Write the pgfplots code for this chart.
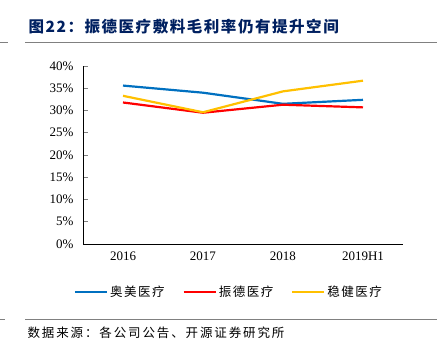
\documentclass[border=0pt]{standalone}
\usepackage{fontspec}
\setmainfont{Liberation Serif}
\newfontfamily\cjk{Noto Sans CJK SC}
\newfontfamily\cjktitle[LetterSpace=10]{Noto Sans CJK SC}
\newfontfamily\cjksrc[LetterSpace=15]{Noto Sans CJK SC}
\newfontfamily\cjkleg[LetterSpace=12]{Noto Sans CJK SC}
\usepackage{pgfplots}
\pgfplotsset{compat=1.18}
\definecolor{cblue}{RGB}{0,112,192}
\definecolor{cred}{RGB}{255,0,0}
\definecolor{cyel}{RGB}{255,192,0}
\definecolor{ctitle}{RGB}{0,32,96}
\definecolor{crule}{RGB}{128,128,128}
\begin{document}
\begin{tikzpicture}[x=1pt,y=1pt]
\useasboundingbox (0,0) rectangle (437,350);
% title
\node[anchor=west,text=ctitle,font=\cjktitle\bfseries\fontsize{15.5}{16}\selectfont] at (25,323) {图22：振德医疗敷料毛利率仍有提升空间};
\draw[crule,line width=1.2pt] (0,307.5) -- (8,307.5);
\draw[crule,line width=1.2pt] (25,307.5) -- (437,307.5);
\draw[crule,line width=1pt] (0,30) -- (5,30);
\draw[crule,line width=1pt] (25,30) -- (437,30);
\node[anchor=west,font=\cjksrc\fontsize{12.5}{13}\selectfont] at (24,17) {数据来源：各公司公告、开源证券研究所};
\begin{axis}[
  at={(83pt,106pt)}, anchor=south west,
  scale only axis, width=320pt, height=178pt,
  xmin=-0.5, xmax=3.5, ymin=0, ymax=40,
  axis lines=left, axis line style={-, line width=0.8pt},
  xtick={0,1,2,3}, xticklabels={2016,2017,2018,2019H1},
  xtick style={draw=none},
  extra x ticks={0.5,1.5,2.5,3.5}, extra x tick labels={},
  extra x tick style={tick style={draw=black,line width=0.8pt}, major tick length=4pt, tick align=inside},
  ytick={0,5,...,40}, yticklabel={\pgfmathprintnumber{\tick}\%},
  ytick style={line width=0.8pt}, major tick length=4.5pt, tick align=inside,
  /pgf/number format/assume math mode=true,
  ticklabel style={font=\fontsize{13}{13}\selectfont},
  xticklabel style={yshift=-4pt},
  yticklabel style={xshift=-6pt},
  legend columns=3,
  legend style={at={(0.456,-0.27)}, anchor=center, draw=none, font=\cjkleg\fontsize{12.5}{13}\selectfont, /tikz/every even column/.append style={column sep=16pt}},
  legend image code/.code={\draw[#1] (0pt,0pt) -- (32pt,0pt);},
]
\addplot[cblue, line width=2.2pt] coordinates {(0,35.6) (1,34.0) (2,31.5) (3,32.4)};
\addlegendentry{奥美医疗}
\addplot[cred, line width=2.2pt] coordinates {(0,31.8) (1,29.5) (2,31.3) (3,30.7)};
\addlegendentry{振德医疗}
\addplot[cyel, line width=2.2pt] coordinates {(0,33.3) (1,29.6) (2,34.3) (3,36.7)};
\addlegendentry{稳健医疗}
\end{axis}
\end{tikzpicture}
\end{document}
